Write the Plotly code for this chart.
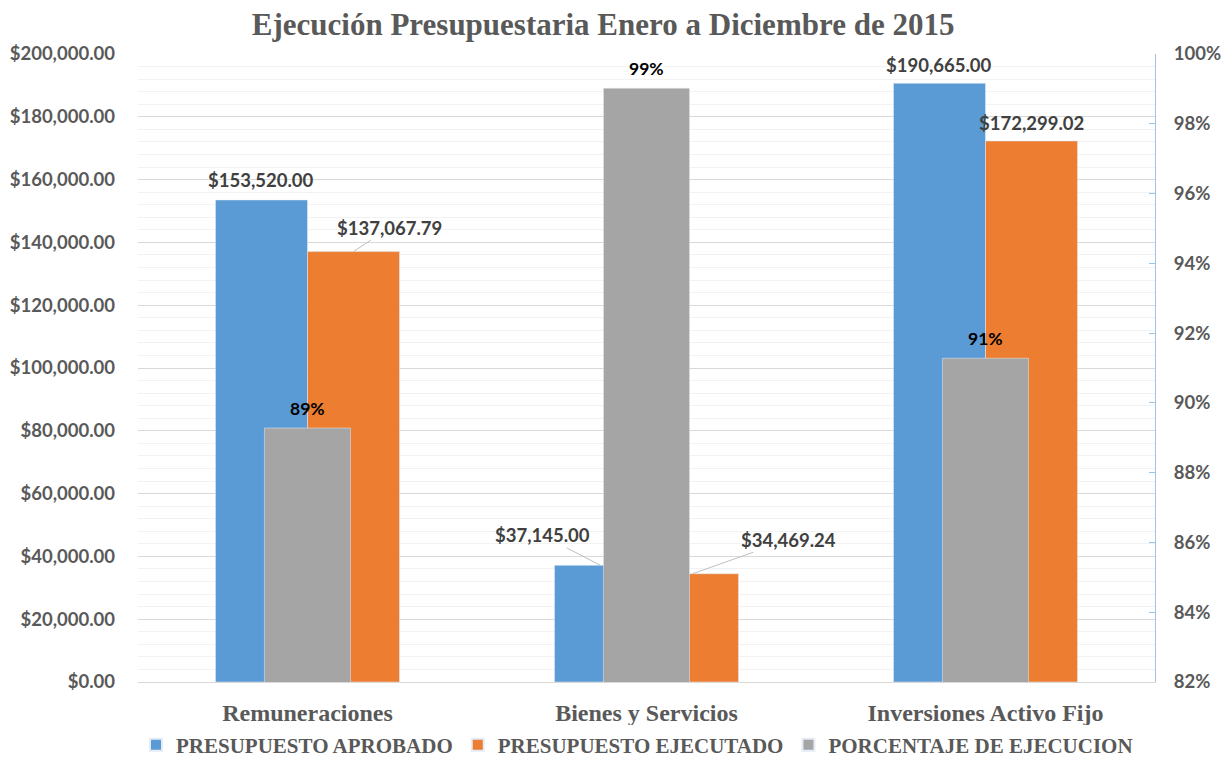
import plotly.graph_objects as go

categories = ["Remuneraciones", "Bienes y Servicios", "Inversiones Activo Fijo"]
aprobado = [153520.00, 37145.00, 190665.00]
ejecutado = [137067.79, 34469.24, 172299.02]
porcentaje = [0.8928, 0.9902, 0.9128]
series_names = ["PRESUPUESTO APROBADO", "PRESUPUESTO EJECUTADO", "PORCENTAJE DE EJECUCION"]
y_ticks = [0, 20000, 40000, 60000, 80000, 100000, 120000, 140000, 160000, 180000, 200000]
y2_ticks = [0.82, 0.84, 0.86, 0.88, 0.90, 0.92, 0.94, 0.96, 0.98, 1.00]

BLUE = "#5b9bd5"
ORANGE = "#ed7d31"
GRAY = "#a5a5a5"
SANS = "Lato, 'Open Sans', sans-serif"
SERIF = "'Liberation Serif', 'DejaVu Serif', serif"

W_MAIN = 0.2714
W_PCT = 0.254
FIG_W, FIG_H = 1222, 752  # page body has an 8px margin

fig = go.Figure()
fig.add_trace(go.Bar(x=categories, y=aprobado, name=series_names[0], marker_color=BLUE,
                     width=W_MAIN, offset=-W_MAIN, yaxis="y"))
fig.add_trace(go.Bar(x=categories, y=ejecutado, name=series_names[1], marker_color=ORANGE,
                     width=W_MAIN, offset=0, yaxis="y"))
fig.add_trace(go.Bar(x=categories, y=porcentaje, name=series_names[2], marker_color=GRAY,
                     width=W_PCT, offset=-W_PCT / 2, yaxis="y2"))

label_font = dict(family=SANS, size=18.5, color="#404040", weight="bold")
bx = -W_MAIN / 2 * 339  # pixel shift for blue bar centre
ox = W_MAIN / 2 * 339

ann = []
def money(v):
    return "${:,.2f}".format(v)

# Remuneraciones
ann.append(dict(x=categories[0], y=aprobado[0], text=money(aprobado[0]), xshift=bx, yshift=7,
                yanchor="bottom", showarrow=False, font=label_font))
ann.append(dict(x=categories[0], y=ejecutado[0], text=money(ejecutado[0]), xshift=ox,
                showarrow=True, arrowhead=0, arrowwidth=1, arrowcolor="#bfbfbf", ax=36, ay=-24,
                font=label_font))
# Bienes y Servicios
ann.append(dict(x=categories[1], y=aprobado[1], text=money(aprobado[1]), xshift=bx,
                showarrow=True, arrowhead=0, arrowwidth=1, arrowcolor="#bfbfbf", ax=-58, ay=-30,
                font=label_font))
ann.append(dict(x=categories[1], y=ejecutado[1], text=money(ejecutado[1]), xshift=ox,
                showarrow=True, arrowhead=0, arrowwidth=1, arrowcolor="#bfbfbf", ax=96, ay=-34,
                font=label_font))
# Inversiones
ann.append(dict(x=categories[2], y=aprobado[2], text=money(aprobado[2]), xshift=bx, yshift=5,
                yanchor="bottom", showarrow=False, font=label_font))
ann.append(dict(x=categories[2], y=ejecutado[2], text=money(ejecutado[2]), xshift=ox, yshift=5,
                yanchor="bottom", showarrow=False, font=label_font))
# Percentages
for c, p in zip(categories, porcentaje):
    ann.append(dict(x=c, y=p, yref="y2", text="{:.0%}".format(p), yshift=7, yanchor="bottom",
                    showarrow=False, font=dict(family=SANS, size=17.5, color="#000000", weight="bold")))

fig.update_layout(
    width=FIG_W, height=FIG_H,
    margin=dict(l=130, r=75, t=46, b=78),
    paper_bgcolor="white", plot_bgcolor="white",
    barmode="overlay",
    title=dict(text="Ejecución Presupuestaria Enero a Diciembre de 2015",
               x=0.487, xanchor="center", y=1 - 16 / FIG_H, yanchor="middle",
               font=dict(family=SERIF, size=31, color="#595959", weight="bold")),
    xaxis=dict(type="category", range=[-0.5, 2.5], showgrid=False, showline=True,
               linecolor="#d9d9d9", linewidth=1, ticks="", ticklabelstandoff=9,
               automargin=False,
               tickfont=dict(family=SERIF, size=24, color="#595959", weight="bold")),
    yaxis=dict(range=[0, 200000], tickvals=y_ticks, tickformat="$,.2f",
               showgrid=True, gridcolor="#d9d9d9", gridwidth=1, zeroline=False,
               showline=False, ticks="", ticklabelstandoff=22, automargin=False,
               tickfont=dict(family=SANS, size=18.5, color="#595959", weight="bold"),
               minor=dict(dtick=4000, showgrid=True, gridcolor="#f2f2f2", gridwidth=1)),
    yaxis2=dict(range=[0.82, 1.0], tickvals=y2_ticks, tickformat=".0%",
                overlaying="y", side="right", showgrid=False, zeroline=False,
                showline=True, linecolor="#9dc3e6", linewidth=1,
                ticks="inside", ticklen=6, tickcolor="#9dc3e6",
                ticklabelstandoff=14, automargin=False,
                tickfont=dict(family=SANS, size=18.5, color="#595959", weight="bold")),
    legend=dict(orientation="h", x=629 / FIG_W, xanchor="center", xref="container",
                y=15 / FIG_H, yanchor="middle", yref="container",
                font=dict(family=SERIF, size=21, color="#595959", weight="bold"),
                itemsizing="constant", traceorder="normal"),
    annotations=ann,
    showlegend=True,
)

fig.write_html("out.html")
